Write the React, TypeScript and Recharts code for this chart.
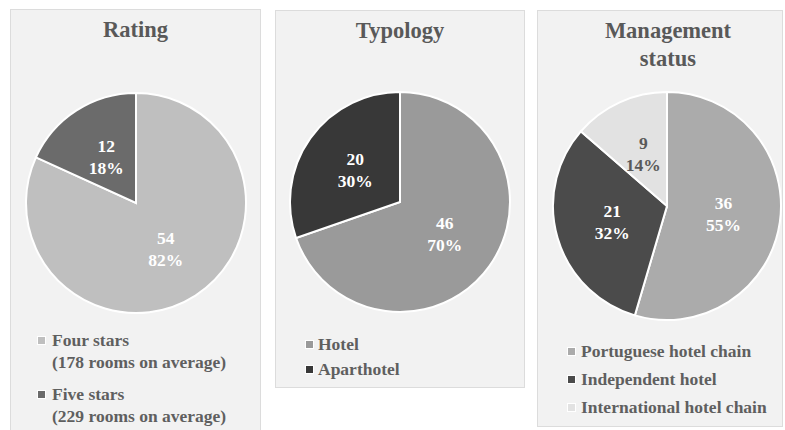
import { PieChart, Pie, Cell, Legend } from "recharts";

const ratingNames = ["Four stars", "Five stars"];
const ratingNotes = ["(178 rooms on average)", "(229 rooms on average)"];
const ratingValues = [54, 12];
const ratingColors = ["#bfbfbf", "#6b6b6b"];
const ratingLabelColors = ["#ffffff", "#ffffff"];

const typologyNames = ["Hotel", "Aparthotel"];
const typologyValues = [46, 20];
const typologyColors = ["#9a9a9a", "#383838"];
const typologyLabelColors = ["#ffffff", "#ffffff"];

const managementNames = ["Portuguese hotel chain", "Independent hotel", "International hotel chain"];
const managementValues = [36, 21, 9];
const managementColors = ["#ababab", "#4b4b4b", "#e2e2e2"];
const managementLabelColors = ["#ffffff", "#ffffff", "#595959"];

const FONT = '"Liberation Serif", "Times New Roman", serif';
const RADIAN = Math.PI / 180;

const makeLabel = (labelColors: string[]) => (props: any) => {
  const { cx, cy, midAngle, outerRadius, value, percent, index } = props;
  const r = outerRadius * 0.5;
  const x = cx + r * Math.cos(-midAngle * RADIAN);
  const y = cy + r * Math.sin(-midAngle * RADIAN);
  return (
    <text x={x} y={y} fill={labelColors[index]} textAnchor="middle" fontFamily={FONT} fontSize={17.5} fontWeight="bold">
      <tspan x={x} y={y - 5}>{value}</tspan>
      <tspan x={x} y={y + 17}>{Math.round(percent * 100)}%</tspan>
    </text>
  );
};

type LegendCfg = { names: string[]; colors: string[]; notes?: string[]; lh: number; gap: number; textX: number };

const makeLegend = (cfg: LegendCfg) => () => {
  const baseOff = (cfg.lh - 19.4) / 2 + 15.6;
  return (
    <div style={{ fontFamily: FONT, fontSize: 17.5, fontWeight: "bold", color: "#5f5f5f", lineHeight: cfg.lh + "px", textAlign: "left" }}>
      {cfg.names.map((name, i) => (
        <div key={name} style={{ position: "relative", paddingLeft: cfg.textX, marginBottom: cfg.gap, whiteSpace: "nowrap" }}>
          <span
            style={{
              position: "absolute", left: 0, top: baseOff - 10, width: 7, height: 7,
              background: cfg.colors[i], border: "1px solid #ffffff",
            }}
          />
          <div>{name}</div>
          {cfg.notes && <div>{cfg.notes[i]}</div>}
        </div>
      ))}
    </div>
  );
};

type PanelProps = {
  left: number; top: number; width: number; height: number;
  title: string[]; titleShift: number;
  names: string[]; values: number[]; colors: string[]; labelColors: string[];
  cx: number; cy: number; r: number;
  legendX: number; legendY: number; legend: LegendCfg;
};

const Panel = (p: PanelProps) => {
  const data = p.names.map((name, i) => ({ name, value: p.values[i] }));
  const w = p.width - 2;
  const h = p.height - 2;
  return (
    <div
      style={{
        position: "absolute", left: p.left, top: p.top, width: p.width, height: p.height,
        boxSizing: "border-box", background: "#f2f2f2", border: "1px solid #dcdcdc",
      }}
    >
      <div
        style={{
          position: "absolute", left: p.titleShift, top: 6, width: w, textAlign: "center",
          fontFamily: FONT, fontSize: 22.5, fontWeight: "bold", color: "#595959", lineHeight: "28px",
        }}
      >
        {p.title.map((t) => <div key={t}>{t}</div>)}
      </div>
      <PieChart width={w} height={h} margin={{ top: 0, right: 0, bottom: 0, left: 0 }} style={{ position: "absolute", left: 0, top: 0 }}>
        <Pie
          data={data}
          dataKey="value"
          nameKey="name"
          cx={p.cx}
          cy={p.cy}
          outerRadius={p.r}
          startAngle={90}
          endAngle={-270}
          stroke="#ffffff"
          strokeWidth={2}
          label={makeLabel(p.labelColors)}
          labelLine={false}
          isAnimationActive={false}
        >
          {data.map((d, i) => <Cell key={d.name} fill={p.colors[i]} />)}
        </Pie>
        <Legend
          itemSorter={null}
          content={makeLegend(p.legend)}
          wrapperStyle={{ position: "absolute", left: p.legendX, top: p.legendY, bottom: "auto", right: "auto", width: w - p.legendX }}
        />
      </PieChart>
    </div>
  );
};

export default function App() {
  return (
    <div style={{ position: "absolute", left: 0, top: 0, width: 785, height: 430, overflow: "hidden", background: "#ffffff" }}>
      <Panel
        left={10} top={9} width={251} height={430}
        title={["Rating"]} titleShift={0}
        names={ratingNames} values={ratingValues} colors={ratingColors} labelColors={ratingLabelColors}
        cx={125} cy={193} r={110}
        legendX={26} legendY={319}
        legend={{ names: ratingNames, colors: ratingColors, notes: ratingNotes, lh: 22, gap: 10, textX: 15 }}
      />
      <Panel
        left={275} top={10} width={250} height={378}
        title={["Typology"]} titleShift={0}
        names={typologyNames} values={typologyValues} colors={typologyColors} labelColors={typologyLabelColors}
        cx={124} cy={191} r={110}
        legendX={29} legendY={321}
        legend={{ names: typologyNames, colors: typologyColors, lh: 25, gap: 0, textX: 13 }}
      />
      <Panel
        left={537} top={10} width={246} height={417}
        title={["Management", "status"]} titleShift={8}
        names={managementNames} values={managementValues} colors={managementColors} labelColors={managementLabelColors}
        cx={129} cy={195} r={114}
        legendX={29} legendY={326}
        legend={{ names: managementNames, colors: managementColors, lh: 28, gap: 0, textX: 14 }}
      />
    </div>
  );
}
